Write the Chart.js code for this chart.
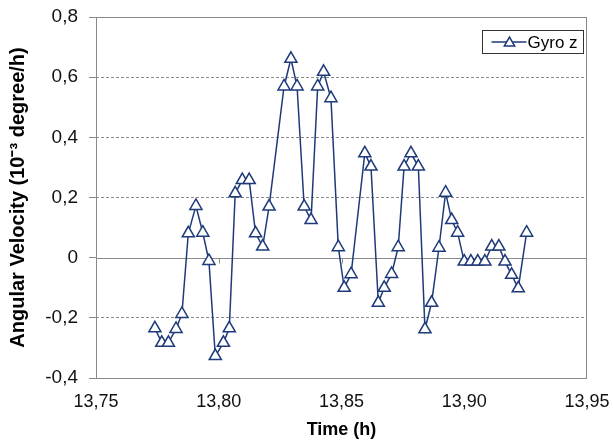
<!DOCTYPE html>
<html lang="en">
<head>
    <meta charset="UTF-8">
    <title>Gyro z</title>
    <script src="https://cdn.jsdelivr.net/npm/chart.js"></script>
    <style>
        html, body { margin: 0; padding: 0; background: #fff; }
        #wrap { width: 613px; height: 445px; }
    </style>
</head>
<body>
    <div id="wrap"><canvas id="gyroChart"></canvas></div>

    <script>
        // time (h) and angular velocity (10^-3 degree/h)
        const timeH = [
            13.7740, 13.7768, 13.7795, 13.7826, 13.7850, 13.7876, 13.7907, 13.7935, 13.7960, 13.7986,
            13.8019, 13.8043, 13.8067, 13.8096, 13.8124, 13.8150, 13.8179, 13.8205, 13.8266, 13.8294,
            13.8319, 13.8348, 13.8376, 13.8403, 13.8427, 13.8457, 13.8487, 13.8511, 13.8539, 13.8595,
            13.8620, 13.8650, 13.8674, 13.8704, 13.8731, 13.8755, 13.8783, 13.8813, 13.8840, 13.8867,
            13.8897, 13.8924, 13.8949, 13.8973, 13.9000, 13.9027, 13.9055, 13.9084, 13.9112, 13.9141,
            13.9166, 13.9193, 13.9220, 13.9254
        ];
        const gyroZ = [
            -0.235, -0.283, -0.283, -0.237, -0.187, 0.081, 0.172, 0.083, -0.011, -0.327,
            -0.283, -0.235, 0.214, 0.258, 0.258, 0.081, 0.037, 0.170, 0.569, 0.661,
            0.569, 0.170, 0.125, 0.569, 0.618, 0.530, 0.035, -0.100, -0.055, 0.347,
            0.303, -0.150, -0.100, -0.054, 0.035, 0.303, 0.347, 0.303, -0.238, -0.150,
            0.033, 0.216, 0.125, 0.083, -0.013, -0.013, -0.013, -0.013, 0.037, 0.037,
            -0.013, -0.057, -0.102, 0.083
        ];
        const xTicks = [13.75, 13.80, 13.85, 13.90, 13.95];
        const yTicks = [-0.4, -0.2, 0, 0.2, 0.4, 0.6, 0.8];

        const navy = '#1f3a7a';
        const gray = '#8a8a8a';
        const font = "Arial, 'Liberation Sans', sans-serif";

        const comma = (v, d) => Math.abs(v) < 1e-9 ? '0' : v.toFixed(d).replace('.', ',');

        // plot frame, solid zero line with small ticks, and the boxed legend
        const frame = {
            id: 'frame',
            beforeDatasetsDraw(chart) {
                const { ctx, chartArea: a, scales: { x, y } } = chart;
                const y0 = Math.round(y.getPixelForValue(0)) + 0.5;
                ctx.save();
                ctx.strokeStyle = gray;
                ctx.lineWidth = 1;
                ctx.beginPath();
                ctx.moveTo(a.left, y0);
                ctx.lineTo(a.right, y0);
                xTicks.slice(1, -1).forEach(t => {
                    const px = Math.round(x.getPixelForValue(t)) + 0.5;
                    ctx.moveTo(px, y0);
                    ctx.lineTo(px, y0 + 5);
                });
                ctx.stroke();
                ctx.strokeRect(Math.round(a.left) + 0.5, Math.round(a.top) + 0.5,
                    Math.round(a.width) - 1, Math.round(a.height));
                ctx.restore();
            },
            afterDraw(chart) {
                const { ctx, chartArea: a } = chart;
                const bx = Math.round(a.right) - 104.5, by = Math.round(a.top) + 13.5;
                const bw = 101, bh = 23, cy = by + bh / 2;
                ctx.save();
                ctx.fillStyle = '#fff';
                ctx.fillRect(bx, by, bw, bh);
                ctx.strokeStyle = '#333';
                ctx.lineWidth = 1;
                ctx.strokeRect(bx, by, bw, bh);
                ctx.strokeStyle = navy;
                ctx.lineWidth = 1.5;
                ctx.beginPath();
                ctx.moveTo(bx + 9, cy);
                ctx.lineTo(bx + 44, cy);
                ctx.stroke();
                ctx.fillStyle = '#fff';
                Chart.helpers.drawPoint(ctx, { pointStyle: 'triangle', radius: 6, rotation: 0, borderWidth: 1.5 },
                    bx + 27, cy + 1);
                ctx.fillStyle = '#000';
                ctx.font = '17px ' + font;
                ctx.textBaseline = 'middle';
                ctx.fillText('Gyro z', bx + 45, cy + 1);
                ctx.restore();
            }
        };

        new Chart(document.getElementById('gyroChart'), {
            type: 'line',
            data: {
                datasets: [{
                    label: 'Gyro z',
                    data: timeH.map((t, i) => ({ x: t, y: gyroZ[i] })),
                    borderColor: navy,
                    borderWidth: 1.5,
                    pointStyle: 'triangle',
                    pointRadius: 7,
                    pointBorderWidth: 1.5,
                    pointBorderColor: navy,
                    pointBackgroundColor: '#fff',
                    tension: 0
                }]
            },
            options: {
                responsive: true,
                maintainAspectRatio: false,
                animation: false,
                layout: { padding: { top: 17, right: 26, left: 0, bottom: 0 } },
                plugins: { legend: { display: false }, tooltip: { enabled: false } },
                scales: {
                    x: {
                        type: 'linear',
                        min: xTicks[0],
                        max: xTicks[xTicks.length - 1],
                        afterBuildTicks: s => { s.ticks = xTicks.map(v => ({ value: v })); },
                        afterFit: s => { s.height = 67; s.paddingLeft = 0; s.paddingRight = 0; },
                        grid: { display: false },
                        border: { display: false },
                        ticks: {
                            padding: 5,
                            color: '#111',
                            font: { family: font, size: 18 },
                            maxRotation: 0,
                            callback: v => comma(v, 2)
                        },
                        title: {
                            display: true,
                            text: 'Time (h)',
                            color: '#000',
                            font: { family: font, size: 18, weight: 'bold' },
                            padding: { top: 4, bottom: 4 }
                        }
                    },
                    y: {
                        min: yTicks[0],
                        max: yTicks[yTicks.length - 1],
                        afterBuildTicks: s => { s.ticks = yTicks.map(v => ({ value: v })); },
                        afterFit: s => { s.width = 96; s.paddingTop = 0; s.paddingBottom = 0; },
                        grid: {
                            color: c => (c.tick && Math.abs(c.tick.value) < 1e-9) ? 'transparent' : gray,
                            tickColor: gray,
                            tickLength: 7,
                            lineWidth: 1
                        },
                        border: { display: false, dash: [3, 2] },
                        ticks: {
                            padding: 11,
                            color: '#111',
                            font: { family: font, size: 19 },
                            callback: v => comma(v, 1)
                        },
                        title: {
                            display: true,
                            text: 'Angular Velocity (10⁻³ degree/h)',
                            color: '#000',
                            font: { family: font, size: 20, weight: 'bold' },
                            padding: { top: 6, bottom: 6 }
                        }
                    }
                }
            },
            plugins: [frame]
        });
    </script>
</body>
</html>
